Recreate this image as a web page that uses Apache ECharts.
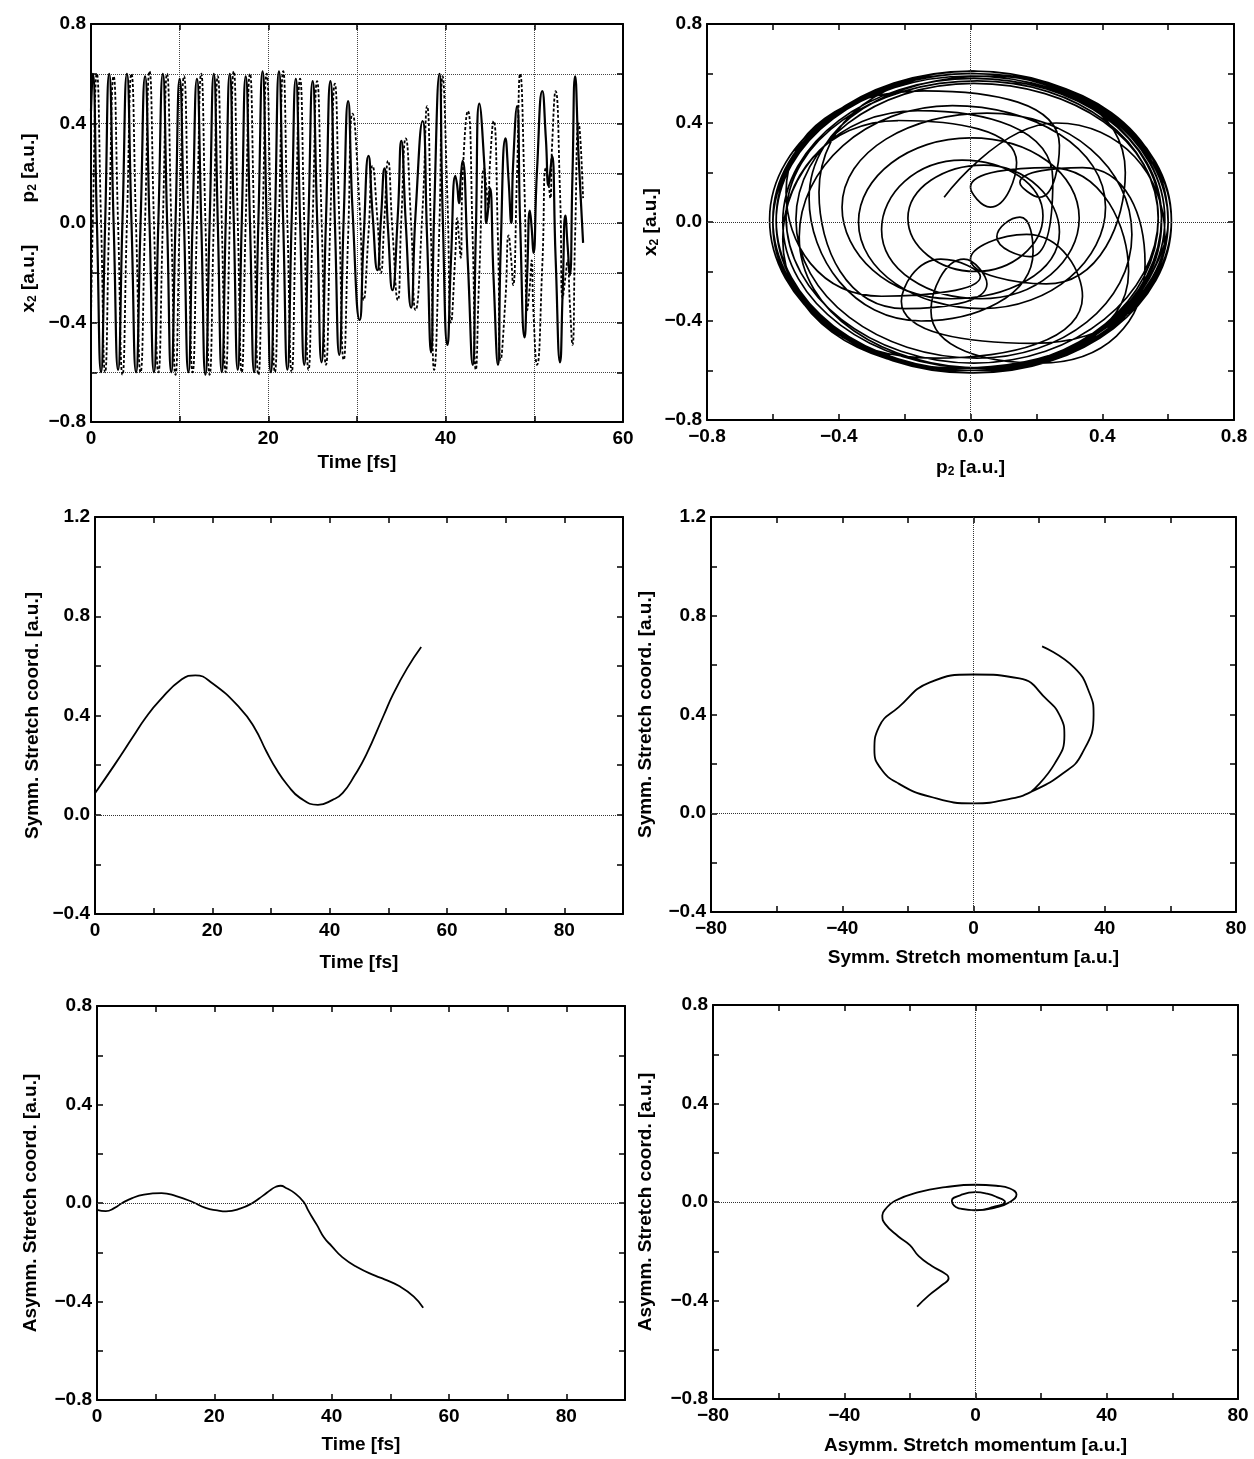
<!DOCTYPE html>
<html>
<head>
<meta charset="utf-8">
<script src="https://cdn.jsdelivr.net/npm/echarts@6/dist/echarts.min.js"></script>
</head>
<body style="margin:0;background:#fff">
<div id="main" style="width:1254px;height:1459px"></div>
<script>
// ---- top row: x2 (dotted) and p2 (solid) against time, and the p2/x2 phase plot
var topTime = [0, 0.2, 0.66, 1.13, 1.59, 2.05, 2.55, 3.05, 3.55, 4.05, 4.56, 5.08, 5.59,
  6.1, 6.6, 7.1, 7.6, 8.1, 8.58, 9.05, 9.53, 10.0, 10.49, 10.98, 11.46,
  11.95, 12.43, 12.9, 13.38, 13.85, 14.3, 14.75, 15.2, 15.65, 16.1, 16.55, 17.0,
  17.45, 17.93, 18.4, 18.88, 19.35, 19.81, 20.28, 20.74, 21.2, 21.68, 22.15, 22.63,
  23.1, 23.58, 24.05, 24.53, 25.0, 25.5, 26.0, 26.5, 27.0, 27.5, 28.0, 28.5,
  29.0, 29.5, 30.3, 30.75, 31.3, 31.75, 32.3, 32.7, 33.1, 33.5,
  34.0, 34.6, 35.0, 35.5, 36.1, 36.6, 37.4, 37.9, 38.35, 38.7,
  39.3, 39.65, 40.2, 40.6, 41.1, 41.3, 41.5, 41.7, 41.9, 42.5,
  43.05, 43.4, 43.8, 44.35, 44.6, 44.8, 45.0, 45.4, 45.9, 46.2,
  46.75, 47.1, 47.4, 47.6, 48.05, 48.4, 48.9, 49.2, 49.5, 49.7,
  49.9, 50.3, 50.9, 51.3, 51.6, 51.8, 52.0, 52.4, 52.9, 53.2,
  53.5, 53.75, 54.0, 54.3, 54.6, 55.0, 55.5];
var p2Vals = [0.45, 0.60, 0.01, -0.60, -0.01, 0.60, 0.00, -0.59, 0.01, 0.60, 0.01, -0.60, 0.00,
  0.59, 0.00, -0.60, 0.01, 0.60, 0.01, -0.60, 0.00, 0.58, 0.00, -0.60, 0.01,
  0.58, 0.01, -0.61, 0.00, 0.60, 0.00, -0.60, 0.01, 0.60, 0.01, -0.59, 0.00,
  0.59, 0.00, -0.60, 0.01, 0.61, 0.01, -0.60, 0.00, 0.61, 0.00, -0.59, 0.01,
  0.58, 0.01, -0.57, 0.02, 0.57, 0.02, -0.56, 0.01, 0.57, 0.01, -0.53, 0.02,
  0.49, 0.05, -0.39, -0.06, 0.27, 0.04, -0.19, 0.015, 0.22, -0.025,
  -0.27, 0.03, 0.33, 0.00, -0.34, 0.035, 0.41, -0.055, -0.52, 0.04,
  0.60, 0.055, -0.49, -0.15, 0.19, 0.15, 0.08, 0.18, 0.25, -0.16,
  -0.57, -0.045, 0.48, 0.24, 0.00, 0.06, 0.14, -0.22, -0.57, -0.11,
  0.34, 0.17, 0.00, 0.23, 0.47, 0.00, -0.46, -0.20, 0.05, -0.02,
  -0.12, 0.21, 0.53, 0.34, 0.15, 0.21, 0.27, -0.14, -0.56, -0.27,
  0.03, -0.09, -0.21, 0.19, 0.59, 0.26, -0.08];
var x2Vals = [-0.40, 0.00, 0.60, 0.01, -0.60, 0.01, 0.59, 0.00, -0.61, 0.00, 0.60, -0.01, -0.60,
  0.01, 0.61, 0.00, -0.60, 0.00, 0.60, 0.01, -0.61, 0.01, 0.59, 0.00, -0.60,
  0.00, 0.60, 0.01, -0.61, 0.01, 0.59, 0.00, -0.60, 0.00, 0.61, 0.01, -0.60,
  0.01, 0.60, 0.00, -0.61, 0.00, 0.60, 0.01, -0.60, 0.01, 0.61, 0.00, -0.60,
  0.02, 0.58, 0.00, -0.59, 0.01, 0.57, 0.02, -0.57, 0.02, 0.56, 0.01, -0.55,
  -0.05, 0.44, 0.06, -0.31, -0.04, 0.23, 0.015, -0.20, 0.025, 0.25,
  -0.03, -0.31, 0.015, 0.34, 0.00, -0.35, 0.06, 0.47, -0.06, -0.59,
  0.00, 0.59, 0.095, -0.40, -0.12, 0.02, -0.06, -0.14, 0.17, 0.45,
  -0.07, -0.59, -0.20, 0.22, 0.14, 0.06, 0.24, 0.41, -0.07, -0.55,
  -0.30, -0.05, -0.15, -0.25, 0.20, 0.60, 0.12, -0.35, -0.25, -0.15,
  -0.36, -0.57, -0.17, 0.22, 0.16, 0.10, 0.31, 0.53, 0.12, -0.30,
  -0.22, -0.15, -0.32, -0.49, -0.05, 0.40, 0.10];

// ---- middle row: symmetric stretch
var symmTime = [0, 3.3, 6.5, 8.6, 11.0, 14.8, 17.1, 20.0, 24.7, 27.2, 29.2, 31.0,
  32.8, 35.0, 38.0, 40.5, 42.2, 44.3, 46.2, 49.2, 50.8, 53.2, 55.6];
var symmCoord = [0.087, 0.20, 0.315, 0.39, 0.46, 0.546, 0.562, 0.53, 0.43, 0.35, 0.256, 0.18,
  0.12, 0.067, 0.04, 0.06, 0.087, 0.16, 0.24, 0.40, 0.485, 0.59, 0.676];
var symmMom = [17.6, 24.7, 27.7, 26.5, 22.4, 14.0, 0, -13.3, -22.8, -28.8, -30.2, -28.2,
  -22.8, -13.3, 0, 11.7, 17.6, 27.1, 33.0, 36.6, 35.4, 30.7, 20.9];

// ---- bottom row: asymmetric stretch
var asymTime = [0, 1.5, 3.0, 4.3, 6.0, 8.0, 11.0, 13.5, 16.2, 18.5, 20.5, 22.0,
  24.5, 26.5, 28.3, 29.7, 30.5, 31.3, 32.3, 33.7, 35.2, 36.0, 36.6, 37.5,
  38.7, 40.0, 41.8, 44.3, 47.5, 49.0, 51.5, 54.0, 55.6];
var asymCoord = [-0.028, -0.033, -0.02, 0.0, 0.02, 0.034, 0.04, 0.028, 0.005, -0.02, -0.03, -0.034,
  -0.022, 0.0, 0.03, 0.055, 0.066, 0.07, 0.06, 0.04, 0.005, -0.03, -0.055, -0.09,
  -0.14, -0.175, -0.22, -0.26, -0.296, -0.31, -0.337, -0.38, -0.425];
var asymMom = [-4.4, 0, 5.5, 9.0, 6.5, 3.5, 0, -4.5, -7.2, -6.0, -3.0, 0,
  6.3, 10.5, 12.5, 10.5, 6.3, 0, -9.2, -17.3, -24.5, -27.5, -28.4, -27.5,
  -23.5, -20.0, -17.3, -13.3, -8.7, -8.2, -10.2, -14.3, -17.8];

var FONT = 'Liberation Sans';
var chart = echarts.init(document.getElementById('main'));

function pairs(xs, ys) {
  return xs.map(function (x, i) { return [x, ys[i]]; });
}

function fmt(labelStep, digits) {
  return function (v) {
    var k = v / labelStep;
    if (Math.abs(k - Math.round(k)) > 1e-6) return '';
    var s = Math.abs(v).toFixed(digits);
    return v < -1e-9 ? '\u2212' + s : s;
  };
}

var rich = {
  n: { fontFamily: FONT, fontWeight: 'bold', fontSize: 19, color: '#000' },
  s: { fontFamily: FONT, fontWeight: 'bold', fontSize: 12, color: '#000', padding: [8, 0, 0, 0] }
};

function axisPair(dim, g, min, max, step, labelStep, digits, name, nameGap, grid) {
  var main = {
    type: 'value', gridIndex: g, min: min, max: max, interval: step,
    position: dim === 'x' ? 'bottom' : 'left',
    axisLine: { show: true, onZero: false, lineStyle: { color: '#000', width: 2 } },
    axisTick: { show: true, inside: true, length: 6, lineStyle: { color: '#000', width: 1.5 } },
    axisLabel: {
      formatter: fmt(labelStep, digits), fontFamily: FONT, fontWeight: 'bold',
      fontSize: 19, color: '#000', margin: dim === 'x' ? 7 : 5
    },
    splitLine: grid ? { show: true, lineStyle: { type: 'dotted', color: '#444', width: 1 } } : { show: false },
    name: name, nameLocation: 'middle', nameGap: nameGap,
    nameTextStyle: { fontFamily: FONT, fontWeight: 'bold', fontSize: 19, color: '#000', rich: rich }
  };
  if (dim === 'y') main.nameRotate = 90;
  var mirror = {
    type: 'value', gridIndex: g, min: min, max: max, interval: step,
    position: dim === 'x' ? 'top' : 'right',
    axisLine: { show: true, onZero: false, lineStyle: { color: '#000', width: 2 } },
    axisTick: { show: true, inside: true, length: 6, lineStyle: { color: '#000', width: 1.5 } },
    axisLabel: { show: false },
    splitLine: { show: false }
  };
  return [main, mirror];
}

var grids = [
  { left: 91, top: 24, width: 532, height: 398 },
  { left: 707, top: 24, width: 527, height: 396 },
  { left: 95, top: 517, width: 528, height: 397 },
  { left: 711, top: 517, width: 525, height: 395 },
  { left: 97, top: 1006, width: 528, height: 394 },
  { left: 713, top: 1005, width: 525, height: 394 }
];

var xAxes = [].concat(
  axisPair('x', 0, 0, 60, 10, 20, 0, 'Time [fs]', 31, true),
  axisPair('x', 1, -0.8, 0.8, 0.2, 0.4, 1, '{n|p}{s|2}{n| [a.u.]}', 38, false),
  axisPair('x', 2, 0, 90, 10, 20, 0, 'Time [fs]', 39, false),
  axisPair('x', 3, -80, 80, 20, 40, 0, 'Symm. Stretch momentum [a.u.]', 36, false),
  axisPair('x', 4, 0, 90, 10, 20, 0, 'Time [fs]', 35, false),
  axisPair('x', 5, -80, 80, 20, 40, 0, 'Asymm. Stretch momentum [a.u.]', 37, false)
);
var yAxes = [].concat(
  axisPair('y', 0, -0.8, 0.8, 0.2, 0.4, 1,
    '{n|x}{s|2}{n| [a.u.]}        {n|p}{s|2}{n| [a.u.]}', 52, true),
  axisPair('y', 1, -0.8, 0.8, 0.2, 0.4, 1, '{n|x}{s|2}{n| [a.u.]}', 46, false),
  axisPair('y', 2, -0.4, 1.2, 0.2, 0.4, 1, 'Symm. Stretch coord. [a.u.]', 53, false),
  axisPair('y', 3, -0.4, 1.2, 0.2, 0.4, 1, 'Symm. Stretch coord. [a.u.]', 56, false),
  axisPair('y', 4, -0.8, 0.8, 0.2, 0.4, 1, 'Asymm. Stretch coord. [a.u.]', 57, false),
  axisPair('y', 5, -0.8, 0.8, 0.2, 0.4, 1, 'Asymm. Stretch coord. [a.u.]', 58, false)
);

function zeroLines(both) {
  var d = [{ yAxis: 0 }];
  if (both) d.push({ xAxis: 0 });
  return {
    silent: true, symbol: 'none', label: { show: false },
    lineStyle: { type: 'dotted', color: '#333', width: 1 },
    emphasis: { disabled: true }, data: d
  };
}

function line(g, data, opts) {
  var s = {
    type: 'line', xAxisIndex: 2 * g, yAxisIndex: 2 * g, data: data,
    showSymbol: false, smooth: 0.5, animation: false,
    lineStyle: { color: '#000', width: 1.8 }
  };
  for (var k in opts) s[k] = opts[k];
  return s;
}

var series = [
  line(0, pairs(topTime, x2Vals), { smooth: 0.55, lineStyle: { color: '#000', width: 1.8, type: [3, 2] } }),
  line(0, pairs(topTime, p2Vals), { smooth: 0.55, lineStyle: { color: '#000', width: 2.2 } }),
  line(1, pairs(p2Vals, x2Vals), { smooth: 0.55, lineStyle: { color: '#000', width: 1.7 }, markLine: zeroLines(true) }),
  line(2, pairs(symmTime, symmCoord), { markLine: zeroLines(false) }),
  line(3, pairs(symmMom, symmCoord), { markLine: zeroLines(true) }),
  line(4, pairs(asymTime, asymCoord), { markLine: zeroLines(false) }),
  line(5, pairs(asymMom, asymCoord), { markLine: zeroLines(true) })
];

chart.setOption({
  animation: false,
  backgroundColor: '#fff',
  grid: grids,
  xAxis: xAxes,
  yAxis: yAxes,
  series: series
});
</script>
</body>
</html>
